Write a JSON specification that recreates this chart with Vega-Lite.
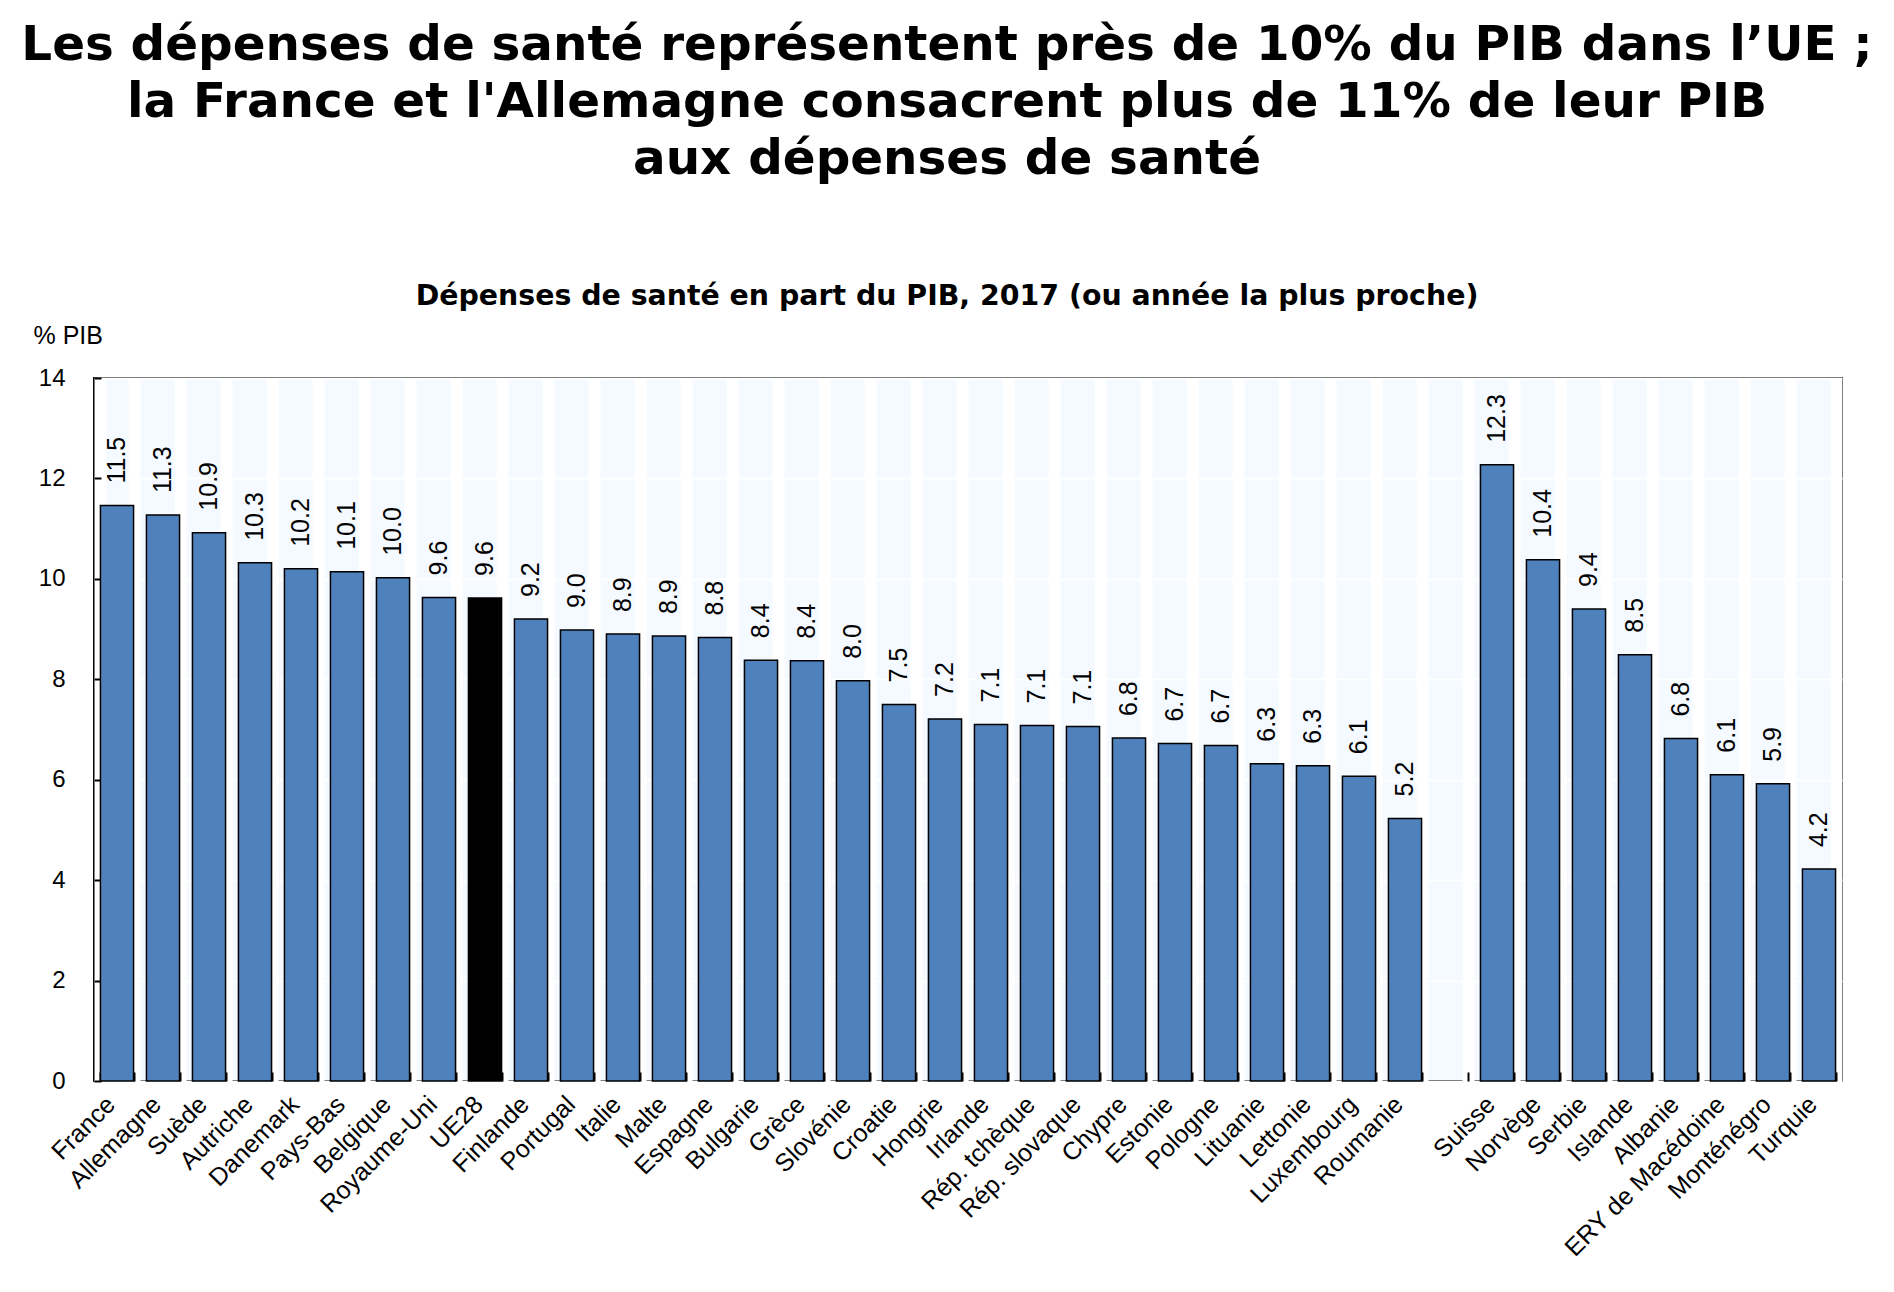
{
  "$schema": "https://vega.github.io/schema/vega-lite/v6.json",
  "width": 1748,
  "height": 703,
  "autosize": "none",
  "padding": {"left": 94, "top": 378, "right": 52, "bottom": 211},
  "background": "white",
  "view": {"fill": "#F4FAFF", "stroke": "#000000", "strokeWidth": 2},
  "title": {
    "text": ["Les dépenses de santé représentent près de 10% du PIB dans l’UE ;", "la France et l'Allemagne consacrent plus de 11% de leur PIB", "aux dépenses de santé"],
    "subtitle": "Dépenses de santé en part du PIB, 2017 (ou année la plus proche)",
    "font": "DejaVu Sans",
    "fontSize": 48.4,
    "fontWeight": "bold",
    "lineHeight": 57,
    "color": "#000000",
    "subtitleFont": "DejaVu Sans",
    "subtitleFontSize": 28.4,
    "subtitleFontWeight": "bold",
    "subtitleColor": "#000000",
    "subtitlePadding": 98,
    "anchor": "middle",
    "frame": "group",
    "dx": -21,
    "offset": 12
  },
  "data": {
    "values": [
      {"pays": "France", "valeur": 11.46, "groupe": "pays"},
      {"pays": "Allemagne", "valeur": 11.27, "groupe": "pays"},
      {"pays": "Suède", "valeur": 10.92, "groupe": "pays"},
      {"pays": "Autriche", "valeur": 10.32, "groupe": "pays"},
      {"pays": "Danemark", "valeur": 10.2, "groupe": "pays"},
      {"pays": "Pays-Bas", "valeur": 10.14, "groupe": "pays"},
      {"pays": "Belgique", "valeur": 10.02, "groupe": "pays"},
      {"pays": "Royaume-Uni", "valeur": 9.63, "groupe": "pays"},
      {"pays": "UE28", "valeur": 9.62, "groupe": "UE"},
      {"pays": "Finlande", "valeur": 9.2, "groupe": "pays"},
      {"pays": "Portugal", "valeur": 8.98, "groupe": "pays"},
      {"pays": "Italie", "valeur": 8.9, "groupe": "pays"},
      {"pays": "Malte", "valeur": 8.86, "groupe": "pays"},
      {"pays": "Espagne", "valeur": 8.83, "groupe": "pays"},
      {"pays": "Bulgarie", "valeur": 8.38, "groupe": "pays"},
      {"pays": "Grèce", "valeur": 8.37, "groupe": "pays"},
      {"pays": "Slovénie", "valeur": 7.97, "groupe": "pays"},
      {"pays": "Croatie", "valeur": 7.5, "groupe": "pays"},
      {"pays": "Hongrie", "valeur": 7.21, "groupe": "pays"},
      {"pays": "Irlande", "valeur": 7.1, "groupe": "pays"},
      {"pays": "Rép. tchèque", "valeur": 7.08, "groupe": "pays"},
      {"pays": "Rép. slovaque", "valeur": 7.06, "groupe": "pays"},
      {"pays": "Chypre", "valeur": 6.83, "groupe": "pays"},
      {"pays": "Estonie", "valeur": 6.72, "groupe": "pays"},
      {"pays": "Pologne", "valeur": 6.68, "groupe": "pays"},
      {"pays": "Lituanie", "valeur": 6.32, "groupe": "pays"},
      {"pays": "Lettonie", "valeur": 6.28, "groupe": "pays"},
      {"pays": "Luxembourg", "valeur": 6.07, "groupe": "pays"},
      {"pays": "Roumanie", "valeur": 5.23, "groupe": "pays"},
      {"pays": "Suisse", "valeur": 12.27, "groupe": "pays"},
      {"pays": "Norvège", "valeur": 10.38, "groupe": "pays"},
      {"pays": "Serbie", "valeur": 9.4, "groupe": "pays"},
      {"pays": "Islande", "valeur": 8.49, "groupe": "pays"},
      {"pays": "Albanie", "valeur": 6.82, "groupe": "pays"},
      {"pays": "ERY de Macédoine", "valeur": 6.1, "groupe": "pays"},
      {"pays": "Monténégro", "valeur": 5.92, "groupe": "pays"},
      {"pays": "Turquie", "valeur": 4.22, "groupe": "pays"}
    ]
  },
  "encoding": {
    "x": {
      "field": "pays",
      "type": "nominal",
      "sort": null,
      "scale": {
        "domain": ["France", "Allemagne", "Suède", "Autriche", "Danemark", "Pays-Bas", "Belgique", "Royaume-Uni", "UE28", "Finlande", "Portugal", "Italie", "Malte", "Espagne", "Bulgarie", "Grèce", "Slovénie", "Croatie", "Hongrie", "Irlande", "Rép. tchèque", "Rép. slovaque", "Chypre", "Estonie", "Pologne", "Lituanie", "Lettonie", "Luxembourg", "Roumanie", " ", "Suisse", "Norvège", "Serbie", "Islande", "Albanie", "ERY de Macédoine", "Monténégro", "Turquie"],
        "paddingInner": 0.28,
        "paddingOuter": 0.14
      },
      "axis": {
        "title": null,
        "domain": false,
        "tickBand": "extent",
        "tickOffset": 6.5,
        "labelOffset": -6.5,
        "tickSize": -9,
        "tickWidth": 2,
        "tickColor": "#000000",
        "grid": true,
        "gridColor": "#FFFFFF",
        "gridWidth": 12,
        "labelAngle": -45,
        "labelAlign": "right",
        "labelBaseline": "middle",
        "labelFont": "Liberation Sans",
        "labelFontSize": 25,
        "labelColor": "#000000",
        "labelPadding": 28,
        "labelOverlap": false,
        "labelLimit": 400,
        "labelBound": false
      }
    },
    "y": {
      "field": "valeur",
      "type": "quantitative",
      "scale": {"domain": [0, 14], "nice": false},
      "axis": {
        "title": "% PIB",
        "titleAngle": 0,
        "titleAlign": "left",
        "titleBaseline": "alphabetic",
        "titleAnchor": "end",
        "titleX": -61,
        "titleY": -35,
        "titleFont": "Liberation Sans",
        "titleFontSize": 25,
        "titleFontWeight": "normal",
        "titleColor": "#000000",
        "values": [0, 2, 4, 6, 8, 10, 12, 14],
        "domain": false,
        "tickSize": -7,
        "tickWidth": 2,
        "tickColor": "#000000",
        "grid": true,
        "gridColor": "#FFFFFF",
        "gridWidth": 2,
        "labelFont": "Liberation Sans",
        "labelFontSize": 24,
        "labelColor": "#000000",
        "labelPadding": 36
      }
    }
  },
  "layer": [
    {
      "mark": {"type": "bar", "stroke": "#000000", "strokeWidth": 1.5},
      "encoding": {
        "color": {
          "field": "groupe",
          "type": "nominal",
          "scale": {"domain": ["pays", "UE"], "range": ["#4F81BD", "#000000"]},
          "legend": null
        }
      }
    },
    {
      "mark": {"type": "text", "angle": 270, "align": "left", "baseline": "middle", "dx": 22, "font": "Liberation Sans", "fontSize": 25, "color": "#000000"},
      "encoding": {
        "text": {"field": "valeur", "type": "quantitative", "format": ".1f"}
      }
    }
  ]
}
